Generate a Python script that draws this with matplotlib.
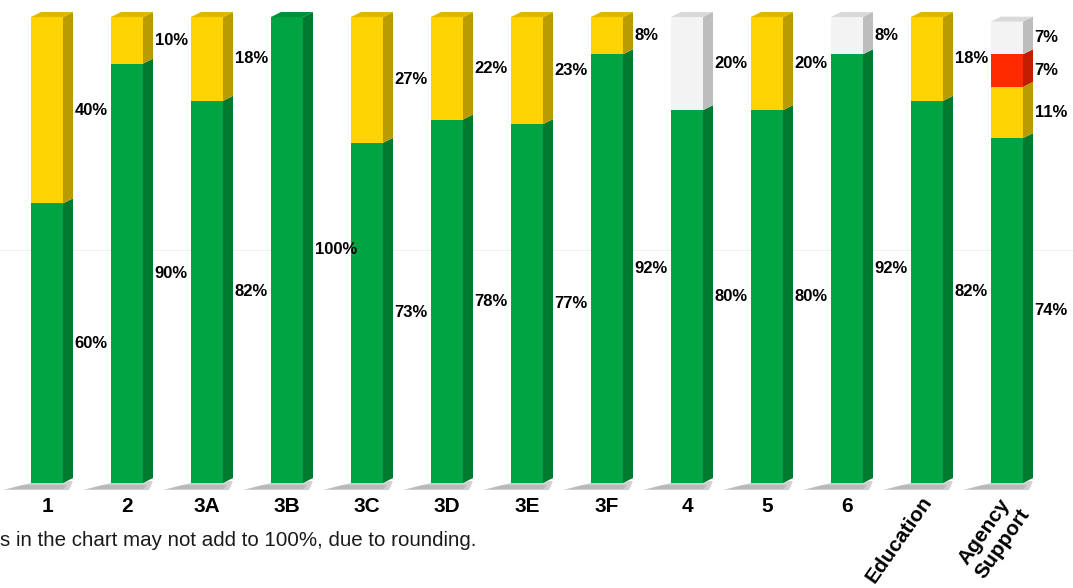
import matplotlib.pyplot as plt
import matplotlib.transforms as mtransforms
from matplotlib.patches import Polygon
import numpy as np

plt.rcParams['font.family'] = ['Liberation Sans', 'DejaVu Sans']

# Data (percent of each category)
categories = ['1', '2', '3A', '3B', '3C', '3D', '3E', '3F', '4', '5', '6',
              'Education', 'Agency\nSupport']
green = [60, 90, 82, 100, 73, 78, 77, 92, 80, 80, 92, 82, 74]
yellow = [40, 10, 18, 0, 27, 22, 23, 8, 0, 20, 0, 18, 11]
red = [0, 0, 0, 0, 0, 0, 0, 0, 0, 0, 0, 0, 7]
white = [0, 0, 0, 0, 0, 0, 0, 0, 20, 0, 8, 0, 7]

# (values, front colour, side colour, top colour)
series = [
    (green, '#00A443', '#007A2E', '#008F3A'),
    (yellow, '#FFD300', '#BB9C00', '#DDB700'),
    (red, '#FF2A00', '#C21D00', '#E02400'),
    (white, '#F3F3F3', '#BDBDBD', '#D9D9D9'),
]

fig = plt.figure(figsize=(10.73, 5.88), dpi=100)
ax = fig.add_axes([0, 105 / 588, 1, 466 / 588])

x = np.arange(len(categories))
w = 0.4          # front face width
dx = 0.125       # 3D depth (x)
dy = 1.07        # 3D depth (y)

ax.set_xlim(-47 / 80, (1073 - 47) / 80)
ax.set_ylim(0, 100)
ax.axhline(50, color='#F0F0F0', lw=0.8, zorder=1)

# floor shadows
for xi in x:
    xl, xr = xi - w / 2, xi + w / 2
    ax.add_patch(Polygon([(xl, 0), (xl - 0.35, -1.5), (xr + dx - 0.05, -1.5),
                          (xr + dx, dy * 0.4)], closed=True, fc='#AFAFAF',
                         ec='none', alpha=0.6, zorder=2, clip_on=False))
    ax.add_patch(Polygon([(xl - 0.1, -0.4), (xl - 0.3, -1.3), (xr, -1.3),
                          (xr + 0.05, -0.4)], closed=True, fc='#9A9A9A',
                         ec='none', alpha=0.4, zorder=2, clip_on=False))

bottom = np.zeros(len(x))
top_color = [None] * len(x)
for vals, front, side, top in series:
    vals = np.array(vals, dtype=float)
    ax.bar(x, vals, w, bottom=bottom, color=front, edgecolor='none',
           zorder=3, clip_on=False)
    for i, (xi, b, v) in enumerate(zip(x, bottom, vals)):
        if v == 0:
            continue
        xr = xi + w / 2
        ax.add_patch(Polygon([(xr, b), (xr + dx, b + dy), (xr + dx, b + v + dy),
                              (xr, b + v)], closed=True, fc=side, ec='none',
                             zorder=3, clip_on=False))
        ax.text(xr + dx + 0.02, b + v / 2, f'{v:.0f}%', ha='left', va='center',
                fontsize=12, fontweight='bold', color='black', zorder=5)
        top_color[i] = top
    bottom += vals

# top caps
for xi, h, c in zip(x, bottom, top_color):
    xl, xr = xi - w / 2, xi + w / 2
    ax.add_patch(Polygon([(xl, h), (xl + dx, h + dy), (xr + dx, h + dy), (xr, h)],
                         closed=True, fc=c, ec='none', zorder=3, clip_on=False))

ax.set_xticks(x)
ax.set_xticklabels(categories, fontsize=15, fontweight='bold')
ax.tick_params(axis='x', length=0, pad=10)
ax.set_yticks([])
for s in ax.spines.values():
    s.set_visible(False)

for lbl in ax.get_xticklabels()[-2:]:
    lbl.set_rotation(55)
    lbl.set_ha('right')
    lbl.set_rotation_mode('anchor')
    lbl.set_multialignment('center')
    lbl.set_transform(lbl.get_transform() +
                      mtransforms.ScaledTranslation(-5 / 72, 3 / 72, fig.dpi_scale_trans))

fig.text(0.0, 1 - 540 / 588, 's in the chart may not add to 100%, due to rounding.',
         ha='left', va='center', fontsize=14.8, color='#1a1a1a')

fig.savefig('out.png', dpi=100)
